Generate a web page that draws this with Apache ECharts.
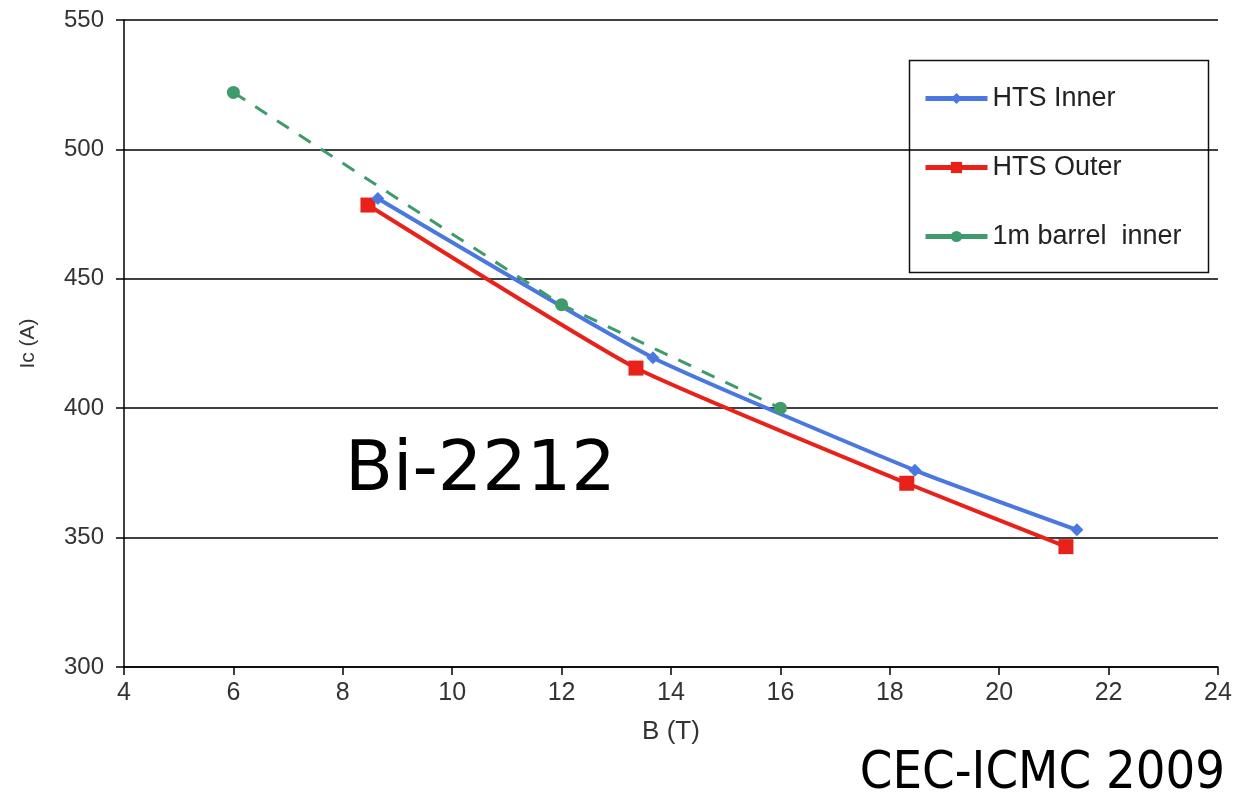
<!DOCTYPE html>
<html><head><meta charset="utf-8">
<script src="https://cdn.jsdelivr.net/npm/echarts@6/dist/echarts.min.js"></script>
<style>html,body{margin:0;padding:0;background:#fff}#c{width:1239px;height:802px}</style>
</head><body><div id="c"></div>
<script>
const innerB = [8.64, 13.67, 18.46, 21.42];
const innerIc = [481, 419.5, 376, 353];
const outerB = [8.46, 13.36, 18.31, 21.22];
const outerIc = [478.5, 415.5, 371, 346.5];
const barrelB = [6, 12, 16];
const barrelIc = [522, 440, 400];
const seriesNames = ['HTS Inner', 'HTS Outer', '1m barrel  inner'];

const pairs = (xs, ys) => xs.map((x, i) => [x, ys[i]]);
const font = '"Liberation Sans", Arial, sans-serif';
const colors = ['#4a78e0', '#e8211b', '#3f9a6c'];
const chart = echarts.init(document.getElementById('c'));
chart.setOption({
  animation: false,
  backgroundColor: '#fff',
  grid: {left: 124, right: 21, top: 20, bottom: 135},
  xAxis: {
    type: 'value', min: 4, max: 24, interval: 2,
    name: 'B (T)', nameLocation: 'middle', nameGap: 52,
    nameTextStyle: {fontFamily: font, fontSize: 26, color: '#333'},
    axisLine: {show: true, lineStyle: {color: '#000', width: 1.5}},
    axisTick: {show: true, length: 8, lineStyle: {color: '#000', width: 1.5}},
    axisLabel: {fontFamily: font, fontSize: 25, color: '#333', margin: 14},
    splitLine: {show: false}
  },
  yAxis: {
    type: 'value', min: 300, max: 550, interval: 50,
    name: 'Ic (A)', nameLocation: 'middle', nameGap: 85, nameRotate: 90,
    nameTextStyle: {fontFamily: font, fontSize: 21, color: '#333'},
    axisLine: {show: true, lineStyle: {color: '#000', width: 1.5}},
    axisTick: {show: true, length: 8, lineStyle: {color: '#000', width: 1.5}},
    axisLabel: {fontFamily: font, fontSize: 24, color: '#333', margin: 20},
    splitLine: {show: true, lineStyle: {color: '#000', width: 1.5}}
  },
  legend: {
    orient: 'vertical', left: 918, top: 80,
    itemWidth: 62, itemHeight: 14, itemGap: 42,
    textStyle: {fontFamily: font, fontSize: 27, color: '#222'},
    data: seriesNames.map((n, i) => ({
      name: n,
      lineStyle: {width: 5, type: 'solid', color: colors[i]}
    }))
  },
  graphic: [
    {type: 'rect', left: 907, top: 58, shape: {width: 299, height: 212},
     style: {fill: 'none', stroke: '#111', lineWidth: 1.5}, z: 0},
    {type: 'text', left: 345, top: 437, z: 10,
     style: {text: 'Bi-2212', font: '70px "DejaVu Sans", sans-serif', fill: '#000'}},
    {type: 'text', right: 14, top: 748, z: 10,
     style: {text: 'CEC-ICMC 2009', font: '52px "DejaVu Sans Condensed", "DejaVu Sans", sans-serif', fill: '#000'}}
  ],
  series: [
    {name: seriesNames[0], type: 'line', data: pairs(innerB, innerIc), smooth: 0.15,
     symbol: 'diamond', symbolSize: 13, color: colors[0],
     lineStyle: {width: 4, color: colors[0]}, itemStyle: {color: colors[0]}, z: 3},
    {name: seriesNames[1], type: 'line', data: pairs(outerB, outerIc), smooth: 0.15,
     symbol: 'rect', symbolSize: 15, color: colors[1],
     lineStyle: {width: 4, color: colors[1]}, itemStyle: {color: colors[1]}, z: 2},
    {name: seriesNames[2], type: 'line', data: pairs(barrelB, barrelIc),
     symbol: 'circle', symbolSize: 13, color: colors[2],
     lineStyle: {width: 3, type: [14, 12], color: colors[2]}, itemStyle: {color: colors[2]}, z: 4}
  ]
});
</script></body></html>
